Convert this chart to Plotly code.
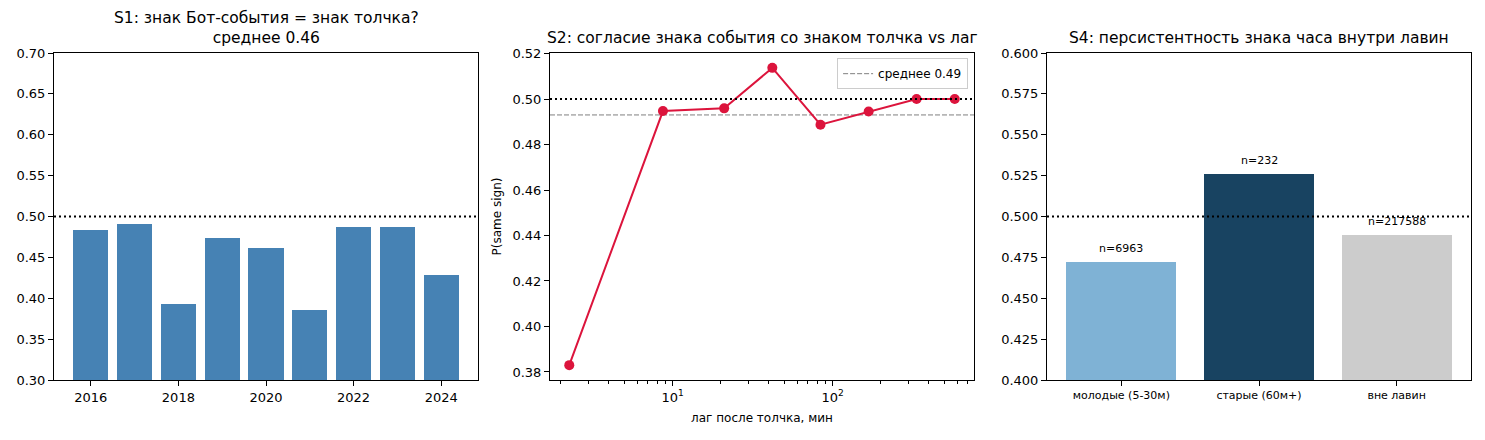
import numpy as np
import plotly.graph_objects as go
from plotly.subplots import make_subplots

# S1: доля совпадения знака Бот-события со знаком толчка, по годам
years = [2016, 2017, 2018, 2019, 2020, 2021, 2022, 2023, 2024]
s1_same_sign = [0.483, 0.491, 0.393, 0.474, 0.461, 0.386, 0.487, 0.487, 0.428]
s1_mean = 0.46

# S2: согласие знака события со знаком толчка vs лаг (мин)
lag_min = [2.26, 8.7, 21, 42, 84, 168, 335, 580]
s2_same_sign = [0.383, 0.4947, 0.4959, 0.5137, 0.4887, 0.4945, 0.500, 0.500]
s2_mean = 0.493

# S4: персистентность знака часа внутри лавин
groups = ["молодые (5-30м)", "старые (60м+)", "вне лавин"]
s4_persist = [0.472, 0.526, 0.4887]
s4_n = [6963, 232, 217588]
s4_colors = ["#7fb2d5", "#184361", "#cccccc"]

FONT = "DejaVu Sans"

# страница имеет отступ 8px, поэтому фигура чуть меньше окна
OFF = 8
W, H = 1485 - OFF, 440 - OFF


def xd(px0, px1):
    return [(px0 - OFF) / W, (px1 - OFF) / W]


x_dom = [xd(54, 478), xd(550, 974), xd(1047, 1471)]
y_dom = [1 - (380 - OFF) / H, 1 - (53 - OFF) / H]


def mpl_range(lo, hi, m=0.05):
    # поля как в matplotlib по умолчанию
    pad = (hi - lo) * m
    return [lo - pad, hi + pad]


fig = make_subplots(rows=1, cols=3)

# S1 бары
fig.add_trace(go.Bar(x=years, y=s1_same_sign, width=0.8, marker_color="#4682b4",
                     marker_line_width=0, showlegend=False), row=1, col=1)

# S2 линия
fig.add_trace(go.Scatter(x=lag_min, y=s2_same_sign, mode="lines+markers",
                         line=dict(color="#dc143c", width=2),
                         marker=dict(color="#dc143c", size=10),
                         showlegend=False), row=1, col=2)
# запись для легенды (сама линия - shape)
fig.add_trace(go.Scatter(x=[None], y=[None], mode="lines",
                         line=dict(color="#7f7f7f", width=1, dash="5px,2px"),
                         name=f"среднее {s2_mean:.2f}"), row=1, col=2)

# S4 бары
fig.add_trace(go.Bar(x=list(range(len(groups))), y=s4_persist, width=0.8,
                     marker_color=s4_colors, marker_line_width=0,
                     showlegend=False), row=1, col=3)

axis_style = dict(showline=True, mirror=True, linecolor="black", linewidth=1,
                  ticks="outside", ticklen=5, tickcolor="black", showgrid=False,
                  zeroline=False, automargin=False,
                  tickfont=dict(size=13, color="black"))

fig.update_xaxes(**axis_style)
fig.update_yaxes(**axis_style)

fig.update_layout(
    xaxis=dict(domain=x_dom[0], range=mpl_range(years[0] - 0.4, years[-1] + 0.4),
               tickvals=years[::2]),
    yaxis=dict(domain=y_dom, range=[0.30, 0.70], dtick=0.05, tickformat=".2f"),
    xaxis2=dict(domain=x_dom[1], type="log",
                range=mpl_range(np.log10(lag_min[0]), np.log10(lag_min[-1])),
                tickmode="array", tickvals=[10, 100],
                ticktext=["10<sup>1</sup>", "10<sup>2</sup>"],
                minor=dict(ticks="outside", ticklen=3, tickcolor="black",
                           tickmode="array",
                           tickvals=[2, 3, 4, 5, 6, 7, 8, 9,
                                     20, 30, 40, 50, 60, 70, 80, 90,
                                     200, 300, 400, 500, 600, 700]),
                title=dict(text="лаг после толчка, мин", font=dict(size=12), standoff=10)),
    yaxis2=dict(domain=y_dom, range=mpl_range(min(s2_same_sign), max(s2_same_sign)),
                dtick=0.02, tickformat=".2f",
                title=dict(text="P(same sign)", font=dict(size=12), standoff=8)),
    xaxis3=dict(domain=x_dom[2], range=mpl_range(-0.4, len(groups) - 1 + 0.4),
                tickvals=list(range(len(groups))), ticktext=groups,
                tickfont=dict(size=11)),
    yaxis3=dict(domain=y_dom, range=[0.40, 0.60], dtick=0.025, tickformat=".3f"),
)

# линия 0.5 во всех панелях
for i in ["", "2", "3"]:
    fig.add_shape(type="line", xref=f"x{i} domain", yref=f"y{i}", x0=0, x1=1,
                  y0=0.5, y1=0.5, line=dict(color="black", width=2, dash="2px,3px"))
fig.add_shape(type="line", xref="x2 domain", yref="y2", x0=0, x1=1,
              y0=s2_mean, y1=s2_mean, line=dict(color="#7f7f7f", width=1, dash="5px,2px"),
              layer="below")

# подписи n=
for i, (v, n) in enumerate(zip(s4_persist, s4_n)):
    fig.add_annotation(x=i, y=v, xref="x3", yref="y3", text=f"n={n}",
                       showarrow=False, yanchor="bottom", yshift=5,
                       font=dict(size=11, color="black"))

titles = [f"S1: знак Бот-события = знак толчка?<br>среднее {s1_mean:.2f}",
          "S2: согласие знака события со знаком толчка vs лаг",
          "S4: персистентность знака часа внутри лавин"]
for t, d in zip(titles, x_dom):
    fig.add_annotation(x=(d[0] + d[1]) / 2, y=y_dom[1], xref="paper", yref="paper",
                       text=t, showarrow=False, xanchor="center", yanchor="bottom",
                       align="center", yshift=4,
                       font=dict(size=15.5, color="black"))

fig.update_layout(
    width=W, height=H,
    margin=dict(l=0, r=0, t=0, b=0),
    paper_bgcolor="white", plot_bgcolor="white",
    font=dict(family=FONT, size=13, color="black"),
    bargap=0,
    legend=dict(x=x_dom[1][1] - 0.004, y=y_dom[1] - 0.012, xanchor="right", yanchor="top",
                bordercolor="#cccccc", borderwidth=1, bgcolor="white",
                itemwidth=30, font=dict(size=12)),
)

fig.write_html("out.html")
